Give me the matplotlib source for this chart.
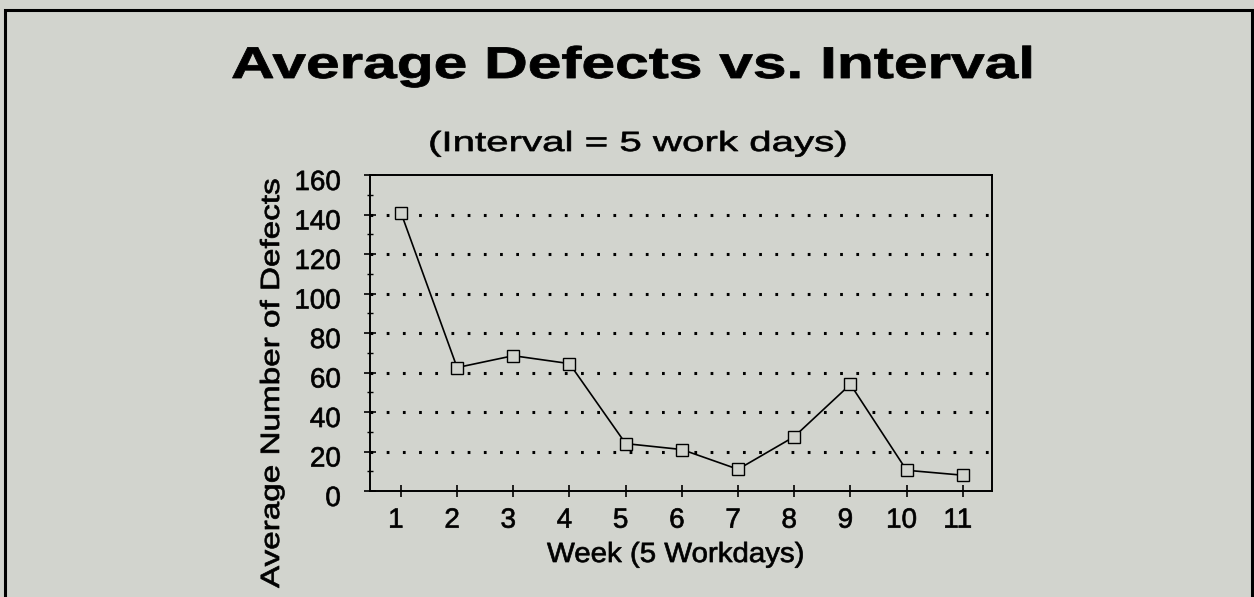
import matplotlib

matplotlib.use("Agg")

import matplotlib.pyplot as plt
from matplotlib.patches import Rectangle
from matplotlib.patheffects import AbstractPathEffect
from matplotlib.ticker import MultipleLocator
from matplotlib.transforms import Affine2D, ScaledTranslation


# ---------------------------------------------------------
# Data
# ---------------------------------------------------------

weeks = [1, 2, 3, 4, 5, 6, 7, 8, 9, 10, 11]
avg_defects = [141, 62.5, 68.5, 64.5, 24, 21, 11, 27.5, 54, 10.5, 8]
y_ticks = [0, 20, 40, 60, 80, 100, 120, 140, 160]

TITLE = "Average Defects vs. Interval"
SUBTITLE = "(Interval = 5 work days)"
X_LABEL = "Week (5 Workdays)"
Y_LABEL = "Average Number of Defects"

BG = "#d2d4ce"

plt.rcParams["font.family"] = ["Liberation Sans", "DejaVu Sans"]


# The scanned slide has its text stretched sideways and a bit heavier;
# this path effect widens a text along its own direction (from its first
# letter) and outlines it thinly so the strokes look like the scan.
class ScanText(AbstractPathEffect):
    def __init__(self, sx=1.0, stroke=0.5):
        super().__init__()
        self.sx = sx
        self.stroke = stroke

    def draw_path(self, renderer, gc, tpath, affine, rgbFace=None):
        gc0 = renderer.new_gc()
        gc0.copy_properties(gc)
        gc0.set_linewidth(self.stroke)
        gc0.set_foreground("black")
        gc0.set_joinstyle("round")
        renderer.draw_path(gc0, tpath, Affine2D().scale(self.sx, 1) + affine, rgbFace)
        gc0.restore()


# ---------------------------------------------------------
# Figure and axes
# ---------------------------------------------------------

W, H = 1254, 597
fig = plt.figure(figsize=(W / 100, H / 100), dpi=100, facecolor=BG)

ax = fig.add_axes([370 / W, 1 - 491 / H, (992 - 370) / W, (491 - 175) / H])
ax.set_facecolor(BG)

ax.plot(
    weeks,
    avg_defects,
    color="black",
    linewidth=1.2,
    marker="s",
    markersize=8.5,
    markerfacecolor=BG,
    markeredgecolor="black",
    markeredgewidth=1.0,
    zorder=3,
)

ax.set_xlim(0.45, 11.52)
ax.set_ylim(0, 160)
ax.set_xticks(weeks)
ax.set_yticks(y_ticks)
ax.yaxis.set_minor_locator(MultipleLocator(10))

for s in ax.spines.values():
    s.set_linewidth(1.4)
    s.set_color("black")

ax.tick_params(axis="both", which="major", direction="inout", length=8,
               width=1.2, labelsize=20, colors="black")
ax.tick_params(axis="y", which="major", pad=17)
ax.tick_params(axis="x", which="major", pad=8)
ax.tick_params(axis="y", which="minor", direction="inout", length=5, width=1.0)

# tick labels sit a little low / left of their ticks on the slide
for lab in ax.get_yticklabels():
    lab.set_transform(lab.get_transform()
                      + ScaledTranslation(0, -5 / 100, fig.dpi_scale_trans))
    lab.set_path_effects([ScanText()])
for lab in ax.get_xticklabels():
    lab.set_transform(lab.get_transform()
                      + ScaledTranslation(-5 / 100, 0, fig.dpi_scale_trans))
    lab.set_path_effects([ScanText()])

# dotted horizontal grid at the major ticks (not on 0 / 160 where the spines are)
for yv in y_ticks[1:-1]:
    ax.axhline(yv, color="black", linewidth=2.2,
               linestyle=(0, (0.9, 4.4)), zorder=1)


# ---------------------------------------------------------
# Text
# ---------------------------------------------------------

fig.text(231 / W, 1 - 78 / H, TITLE, ha="left", va="baseline",
         fontsize=32, fontweight="bold", path_effects=[ScanText(1.36, 0.6)])
fig.text(428 / W, 1 - 151 / H, SUBTITLE, ha="left", va="baseline",
         fontsize=20, path_effects=[ScanText(1.45)])
fig.text(547 / W, 1 - 562 / H, X_LABEL, ha="left", va="baseline",
         fontsize=20, path_effects=[ScanText(1.06)])
fig.text(279 / W, 1 - 588 / H, Y_LABEL, ha="left", va="baseline",
         rotation=90, rotation_mode="anchor", fontsize=19,
         path_effects=[ScanText(1.26)])

# outer frame round the whole slide
fig.patches.append(Rectangle((5 / W, -0.05), 1247 / W, (H - 10) / H + 0.05,
                             transform=fig.transFigure, fill=False,
                             edgecolor="black", linewidth=2.2))

fig.savefig("out.png", dpi=100, facecolor=BG)
